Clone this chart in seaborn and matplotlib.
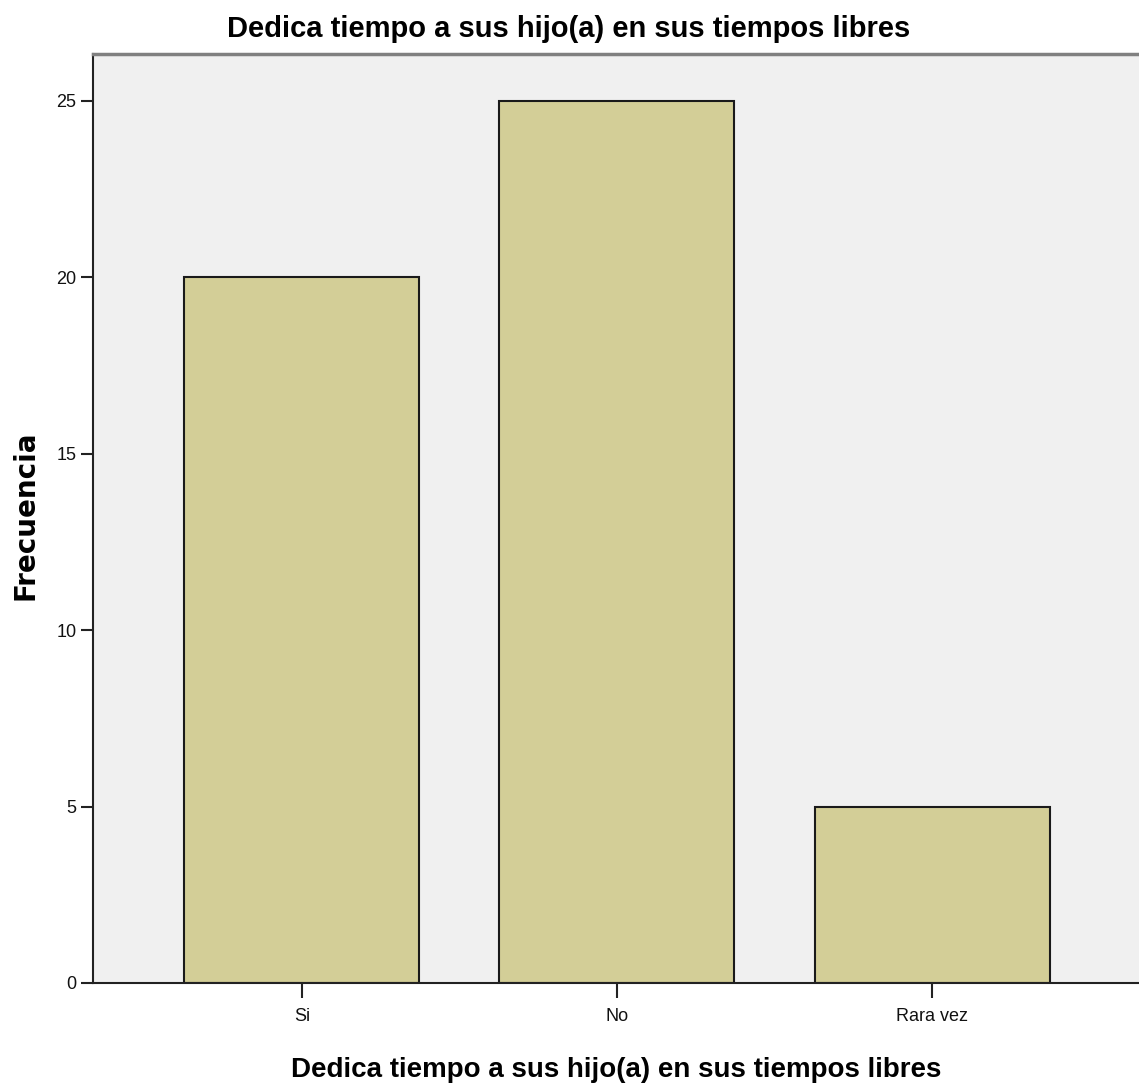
import matplotlib
matplotlib.use('Agg')
import matplotlib.pyplot as plt
import pandas as pd
import seaborn as sns

categories = ['Si', 'No', 'Rara vez']
frecuencia = [20, 25, 5]
yticks = [0, 5, 10, 15, 20, 25]

df = pd.DataFrame({'categoria': categories, 'frecuencia': frecuencia})

sns.set_style('white')
plt.rcParams['font.family'] = ['Liberation Sans Narrow', 'Liberation Sans', 'DejaVu Sans']

fig = plt.figure(figsize=(11.39, 10.9), dpi=100)
ax = fig.add_axes([0.0817, 0.0982, 0.9183, 0.8523])
ax.set_facecolor('#F0F0F0')

sns.barplot(data=df, x='categoria', y='frecuencia', color='#D3CE97',
            edgecolor='#1a1a1a', linewidth=1.5, width=0.746, saturation=1, ax=ax)

ax.set_xlim(-0.663, 2.657)
ax.set_ylim(0, 26.33)
ax.set_yticks(yticks)
ax.set_yticklabels([str(t) for t in yticks])
ax.tick_params(axis='both', direction='out', length=9, width=1.5, color='#222222',
               labelsize=13, labelcolor='#111111', left=True, bottom=True, pad=3)
ax.tick_params(axis='x', length=11, pad=7)

for side in ['left', 'bottom']:
    ax.spines[side].set_color('#222222')
    ax.spines[side].set_linewidth(1.5)
ax.spines['top'].set_color('#808080')
ax.spines['top'].set_linewidth(2.5)
ax.spines['right'].set_visible(False)

ax.set_xlabel('Dedica tiempo a sus hijo(a) en sus tiempos libres', fontsize=20,
              fontweight='bold', color='black', va='center')
ax.xaxis.set_label_coords(0.5, -0.0935)
ax.set_ylabel('Frecuencia', fontsize=20, fontweight='bold', color='black',
              family=['DejaVu Sans'], va='center')
ax.yaxis.set_label_coords(-0.065, 0.503)
fig.text(0.499, 0.973, 'Dedica tiempo a sus hijo(a) en sus tiempos libres',
         fontsize=21, fontweight='bold', color='black', ha='center', va='center')

fig.savefig('out.png', dpi=100)
